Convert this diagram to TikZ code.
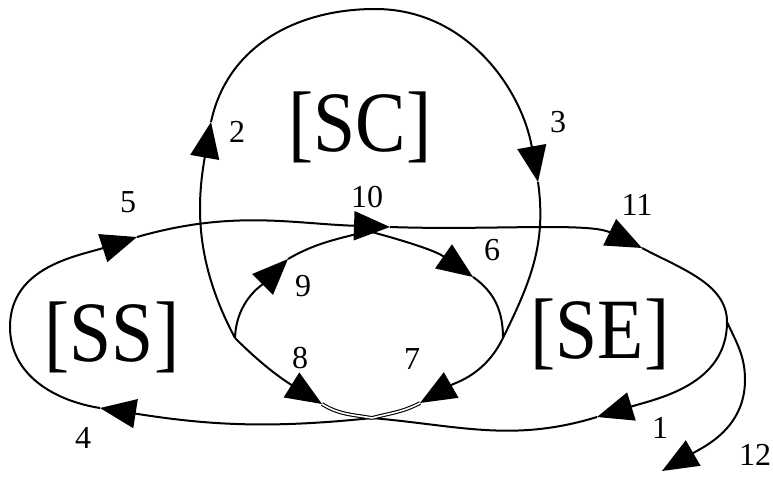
\documentclass[tikz,border=0pt]{standalone}
\usepackage{fontspec}
\setmainfont{Liberation Serif}
\usetikzlibrary{arrows.meta}

\begin{document}
\begin{tikzpicture}[x=1pt,y=1pt,
  flow/.style={line width=2pt},
  tip/.style={-{Triangle[length=36pt,width=29pt]}},
  dbl/.style={line width=1.1pt, double distance=1.6pt},
  statelbl/.style={font=\fontsize{86}{86}\selectfont, xscale=0.88, transform shape, inner sep=0pt},
  num/.style={font=\fontsize{32}{32}\selectfont, inner sep=0pt}
]
\useasboundingbox (0,0) rectangle (773,-477);

% meeting point at the bottom
\coordinate (hub) at (372,-418);
% big oval
\coordinate (t4) at (100,-408);
\coordinate (ovl) at (10,-327);
\coordinate (t5) at (137,-237);
\coordinate (t10) at (390,-227);
\coordinate (t11) at (642,-248);
\coordinate (ovr) at (727,-322);
\coordinate (t1) at (597,-417);
% SC loop
\coordinate (ml) at (235,-338);
\coordinate (t2) at (211,-122);
\coordinate (sctop) at (375,-9);
\coordinate (t3) at (538,-182);
\coordinate (mr) at (503,-338);
\coordinate (t7) at (420,-403);
\coordinate (t8) at (322,-404);
% inner loop
\coordinate (t9) at (288,-259);
\coordinate (jn) at (368,-231);
\coordinate (t6) at (473,-277);
% exit
\coordinate (ex) at (745,-380);
\coordinate (t12) at (662,-471);

% big oval
\draw[flow,tip] (hub) to[out=186,in=-9] (t4);
\draw[flow] (t4) to[out=171,in=-90] (ovl);
\draw[flow,tip] (ovl) to[out=90,in=198] (t5);
\draw[flow,tip] (t5) to[out=16,in=178] (t10);
\draw[flow,tip] (t10) to[out=-2,in=154,in looseness=0.6] (t11);
\draw[flow] (t11) .. controls +(-28:45) and +(90:38) .. (ovr);
\draw[flow,tip] (ovr) to[out=-90,in=17] (t1);
\draw[flow] (t1) to[out=197,in=-5] (hub);

% SC loop
\draw[flow,tip] (ml) to[out=118,in=-100] (t2);
\draw[flow] (t2) to[out=78,in=180] (sctop);
\draw[flow,tip] (sctop) to[out=0,in=100] (t3);
\draw[flow] (t3) to[out=-82,in=64] (mr);
\draw[flow,tip] (mr) to[out=-116,in=30] (t7);
\draw[dbl] (t7) to[out=208,in=15] (hub);
\draw[flow,tip] (ml) to[out=-45,in=148] (t8);
\draw[dbl] (t8) to[out=-32,in=170] (hub);

% inner loop
\draw[flow,tip] (ml) to[out=88,in=225] (t9);
\draw[flow] (t9) to[out=30,in=195] (jn);
\draw[flow,tip] (jn) to[out=-15,in=145] (t6);
\draw[flow] (t6) to[out=-35,in=90] (mr);

% exit
\draw[flow] (ovr) to[out=-65,in=90] (ex);
\draw[flow,tip] (ex) to[out=-90,in=30] (t12);

\node[statelbl] (sc) at (360,-127) {[SC]};
\node[statelbl] (ss) at (112,-337) {[SS]};
\node[statelbl] (se) at (600,-334) {[SE]};

\node[num] (n1) at (660,-428) {1};
\node[num] (n2) at (237,-132) {2};
\node[num] (n3) at (558,-122) {3};
\node[num] (n4) at (83,-438) {4};
\node[num] (n5) at (128,-202) {5};
\node[num] (n6) at (492,-250) {6};
\node[num] (n7) at (412,-359) {7};
\node[num] (n8) at (300,-358) {8};
\node[num] (n9) at (303,-286) {9};
\node[num] (n10) at (367,-197) {10};
\node[num] (n11) at (637,-205) {11};
\node[num] (n12) at (755,-455) {12};
\end{tikzpicture}
\end{document}
